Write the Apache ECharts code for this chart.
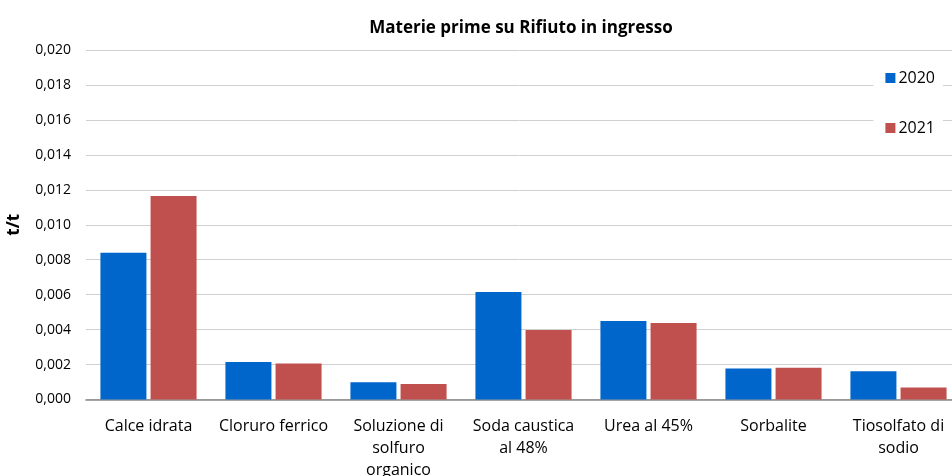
<!DOCTYPE html>
<html>
<head>
<meta charset="utf-8">
<script src="https://cdn.jsdelivr.net/npm/echarts@6/dist/echarts.min.js"></script>
<style>
  html, body { margin: 0; padding: 0; background: #fff; }
  #chart { width: 952px; height: 476px; }
</style>
</head>
<body>
<div id="chart"></div>
<script>
// Raw materials per tonne of incoming waste (t/t)
const categories = [
  'Calce idrata',
  'Cloruro ferrico',
  'Soluzione di\nsolfuro\norganico',
  'Soda caustica\nal 48%',
  'Urea al 45%',
  'Sorbalite',
  'Tiosolfato di\nsodio'
];
const values2020 = [0.0084, 0.00215, 0.00099, 0.00615, 0.00449, 0.00178, 0.00162];
const values2021 = [0.01165, 0.00206, 0.00088, 0.00397, 0.00438, 0.00181, 0.00069];
const yTicks = { min: 0, max: 0.02, interval: 0.002 };

const FONT = "'Open Sans', sans-serif";

const chart = echarts.init(document.getElementById('chart'));
chart.setOption({
  animation: false,
  textStyle: { fontFamily: FONT },
  title: {
    text: 'Materie prime su Rifiuto in ingresso',
    left: 516,
    top: 15,
    textAlign: 'center',
    textStyle: { fontFamily: FONT, fontSize: 17, fontWeight: 'bold', color: '#000' }
  },
  legend: {
    orient: 'vertical',
    right: 9,
    top: 66,
    itemWidth: 10,
    itemHeight: 10,
    itemGap: 34,
    padding: [4, 8, 4, 12],
    backgroundColor: '#fff',
    icon: 'rect',
    textStyle: { fontFamily: FONT, fontSize: 16, color: '#000', padding: [0, 0, 0, -2] },
    data: ['2020', '2021']
  },
  grid: {
    left: 86,
    right: -9,
    top: 50,
    bottom: 76.5,
    containLabel: false,
    outerBoundsMode: 'none'
  },
  xAxis: {
    type: 'category',
    data: categories,
    axisLine: { lineStyle: { color: '#868686', width: 1.5 } },
    axisTick: { show: false },
    axisLabel: {
      interval: 0,
      color: '#000',
      fontFamily: FONT,
      fontSize: 16,
      lineHeight: 22,
      margin: 16
    }
  },
  yAxis: {
    type: 'value',
    min: yTicks.min,
    max: yTicks.max,
    interval: yTicks.interval,
    name: 't/t',
    nameLocation: 'middle',
    nameGap: 63,
    nameTextStyle: { fontFamily: FONT, fontSize: 17, fontWeight: 'bold', color: '#000' },
    axisLine: { show: false },
    axisTick: { show: false },
    splitLine: { lineStyle: { color: '#d0d0d0', width: 1 } },
    axisLabel: {
      color: '#000',
      fontFamily: FONT,
      fontSize: 14,
      margin: 15,
      formatter: v => v.toFixed(3).replace('.', ',')
    }
  },
  series: [
    {
      name: '2020',
      type: 'bar',
      data: values2020,
      barWidth: 46,
      barGap: '9%',
      itemStyle: { color: '#0066CC' }
    },
    {
      name: '2021',
      type: 'bar',
      data: values2021,
      barWidth: 46,
      itemStyle: { color: '#C0504D' }
    }
  ]
});
</script>
</body>
</html>
